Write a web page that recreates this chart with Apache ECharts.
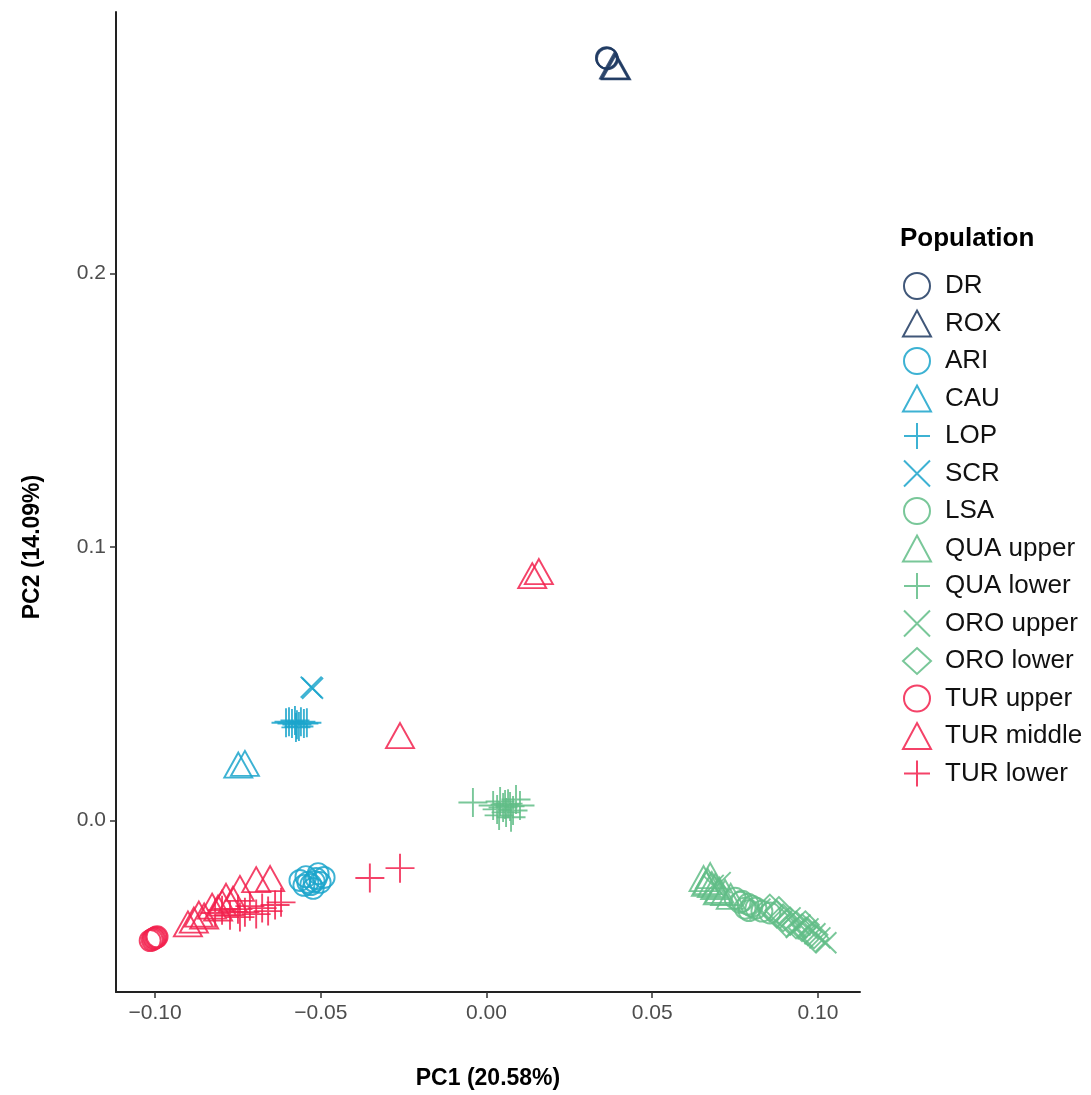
<!DOCTYPE html>
<html>
<head>
<meta charset="utf-8">
<script src="https://cdn.jsdelivr.net/npm/echarts@6/dist/echarts.min.js"></script>
<style>
  html, body { margin: 0; padding: 0; background: #ffffff; }
  #chart { width: 1091px; height: 1095px; }
</style>
</head>
<body>
<div id="chart"></div>
<script>
// PCA scores, [PC1, PC2] per individual, grouped by population
const dr = [[0.0362, 0.2790], [0.0365, 0.2786], [0.0363, 0.2788]];
const rox = [[0.0385, 0.2760], [0.0391, 0.2756], [0.0388, 0.2758]];
const ari = [[-0.0563, -0.0220], [-0.0545, -0.0206], [-0.0530, -0.0235], [-0.0514, -0.0213],
  [-0.0502, -0.0227], [-0.0523, -0.0249], [-0.0539, -0.0227], [-0.0490, -0.0209],
  [-0.0508, -0.0195], [-0.0551, -0.0238], [-0.0520, -0.0224]];
const cau = [[-0.0749, 0.0202], [-0.0729, 0.0208]];
const lop = [[-0.0605, 0.0357], [-0.0596, 0.0361], [-0.0587, 0.0354], [-0.0578, 0.0365],
  [-0.0572, 0.0350], [-0.0566, 0.0343], [-0.0560, 0.0361], [-0.0551, 0.0354],
  [-0.0542, 0.0357], [-0.0575, 0.0340]];
const scr = [[-0.0529, 0.0487], [-0.0525, 0.0483]];
const lsa = [[0.0750, -0.0285], [0.0771, -0.0296], [0.0789, -0.0307], [0.0801, -0.0314],
  [0.0813, -0.0321], [0.0831, -0.0332], [0.0855, -0.0339], [0.0780, -0.0321],
  [0.0765, -0.0300], [0.0792, -0.0330]];
const quaUpper = [[0.0655, -0.0213], [0.0668, -0.0224], [0.0680, -0.0235], [0.0690, -0.0242],
  [0.0703, -0.0256], [0.0720, -0.0264], [0.0737, -0.0278], [0.0662, -0.0231],
  [0.0675, -0.0202], [0.0698, -0.0262]];
const quaLower = [[-0.0041, 0.0065], [0.0020, 0.0054], [0.0032, 0.0040], [0.0041, 0.0069],
  [0.0050, 0.0047], [0.0059, 0.0029], [0.0065, 0.0061], [0.0071, 0.0051], [0.0080, 0.0036],
  [0.0089, 0.0076], [0.0056, 0.0058], [0.0074, 0.0011], [0.0038, 0.0018], [0.0101, 0.0054]];
const oroUpper = [[0.0916, -0.0357], [0.0946, -0.0383], [0.0970, -0.0397], [0.0991, -0.0415],
  [0.1006, -0.0430], [0.1024, -0.0448], [0.0684, -0.0238], [0.0825, -0.0325],
  [0.0705, -0.0228], [0.0935, -0.0392]];
const oroLower = [[0.0855, -0.0321], [0.0876, -0.0343], [0.0895, -0.0357], [0.0916, -0.0368],
  [0.0934, -0.0383], [0.0952, -0.0393], [0.0970, -0.0408], [0.0988, -0.0419],
  [0.0882, -0.0330], [0.0905, -0.0376], [0.0962, -0.0382], [0.0992, -0.0432]];
const turUpper = [[-0.1015, -0.0440], [-0.1009, -0.0437], [-0.1005, -0.0433],
  [-0.1001, -0.0431], [-0.0997, -0.0428], [-0.0994, -0.0426]];
const turMiddle = [[-0.0901, -0.0379], [-0.0883, -0.0365], [-0.0868, -0.0343], [-0.0852, -0.0350],
  [-0.0828, -0.0314], [-0.0810, -0.0321], [-0.0798, -0.0303], [-0.0786, -0.0278],
  [-0.0765, -0.0289], [-0.0744, -0.0249], [-0.0695, -0.0217], [-0.0653, -0.0213],
  [-0.0261, 0.0310], [0.0138, 0.0895], [0.0158, 0.0910]];
const turLower = [[-0.0819, -0.0339], [-0.0798, -0.0329], [-0.0774, -0.0347], [-0.0750, -0.0325],
  [-0.0729, -0.0336], [-0.0714, -0.0314], [-0.0695, -0.0343], [-0.0677, -0.0321],
  [-0.0659, -0.0332], [-0.0638, -0.0310], [-0.0620, -0.0300], [-0.0744, -0.0354],
  [-0.0352, -0.0211], [-0.0261, -0.0175]];

const populations = ['DR', 'ROX', 'ARI', 'CAU', 'LOP', 'SCR', 'LSA', 'QUA upper', 'QUA lower',
  'ORO upper', 'ORO lower', 'TUR upper', 'TUR middle', 'TUR lower'];
const populationData = [dr, rox, ari, cau, lop, scr, lsa, quaUpper, quaLower,
  oroUpper, oroLower, turUpper, turMiddle, turLower];

const xTicks = [-0.10, -0.05, 0.00, 0.05, 0.10];
const yTicks = [0.0, 0.1, 0.2];

// drawing styles
const NAVY = '#1e3a62', BLUE = '#1ba5cb', GREEN = '#62bd87', RED = '#f2214d';
const PLUS = 'path://M0,10L20,10M10,0L10,20';
const CROSS = 'path://M0,0L20,20M20,0L0,20';
const shapes = {
  circle: { symbol: 'circle', size: 21 },
  triangle: { symbol: 'triangle', size: [28, 25] },
  plus: { symbol: PLUS, size: 29 },
  cross: { symbol: CROSS, size: 21 },
  diamond: { symbol: 'diamond', size: 27 }
};
const looks = [
  [NAVY, 'circle'], [NAVY, 'triangle'],
  [BLUE, 'circle'], [BLUE, 'triangle'], [BLUE, 'plus'], [BLUE, 'cross'],
  [GREEN, 'circle'], [GREEN, 'triangle'], [GREEN, 'plus'], [GREEN, 'cross'], [GREEN, 'diamond'],
  [RED, 'circle'], [RED, 'triangle'], [RED, 'plus']
];

const series = populations.map((name, i) => {
  const [col, shp] = looks[i];
  return {
    name: name,
    type: 'scatter',
    data: populationData[i],
    symbol: shapes[shp].symbol,
    symbolSize: shapes[shp].size,
    symbolKeepAspect: true,
    itemStyle: { color: 'rgba(0,0,0,0)', borderColor: col, borderWidth: 1.9, opacity: 0.85 },
    emphasis: { disabled: true }
  };
});

const fmtX = v => { const s = Math.abs(v).toFixed(2); return v < -1e-9 ? '\u2212' + s : s; };
const fmtY = v => { const s = Math.abs(v).toFixed(1); return v < -1e-9 ? '\u2212' + s : s; };

const FONT = 'Liberation Sans, Arial, sans-serif';
const chart = echarts.init(document.getElementById('chart'), null, { renderer: 'canvas' });
chart.setOption({
  animation: false,
  backgroundColor: '#ffffff',
  textStyle: { fontFamily: FONT },
  grid: { left: 116, right: 231, top: 12, bottom: 90 },
  title: {
    text: 'Population', left: 895, top: 221,
    textStyle: { fontSize: 26, fontWeight: 'bold', color: '#000', fontFamily: FONT }
  },
  legend: {
    orient: 'vertical', left: 897, top: 267,
    itemWidth: 28, itemHeight: 26, itemGap: 9.5,
    symbolKeepAspect: true,
    data: populations,
    textStyle: { fontSize: 26, lineHeight: 26, color: '#111', fontFamily: FONT, padding: [0, 0, 0, 9] },
    selectedMode: false
  },
  xAxis: {
    type: 'value', min: -0.1118, max: 0.1127,
    name: 'PC1 (20.58%)', nameLocation: 'middle', nameGap: 75,
    nameTextStyle: { fontSize: 23, fontWeight: 'bold', color: '#000' },
    axisLine: { show: true, onZero: false, lineStyle: { color: '#222', width: 2 } },
    axisTick: { show: true, length: 6, customValues: xTicks, lineStyle: { color: '#333', width: 1.5 } },
    axisLabel: { customValues: xTicks, formatter: fmtX, fontSize: 21, color: '#4d4d4d', margin: 11 },
    splitLine: { show: false }
  },
  yAxis: {
    type: 'value', min: -0.0628, max: 0.2957,
    name: 'PC2 (14.09%)', nameLocation: 'middle', nameGap: 72,
    nameTextStyle: { fontSize: 23, fontWeight: 'bold', color: '#000', padding: [0, 90, 0, 0] },
    axisLine: { show: true, onZero: false, lineStyle: { color: '#222', width: 2 } },
    axisTick: { show: true, length: 6, customValues: yTicks, lineStyle: { color: '#333', width: 1.5 } },
    axisLabel: { customValues: yTicks, formatter: fmtY, fontSize: 21, color: '#4d4d4d', margin: 10 },
    splitLine: { show: false }
  },
  series: series
});
</script>
</body>
</html>
